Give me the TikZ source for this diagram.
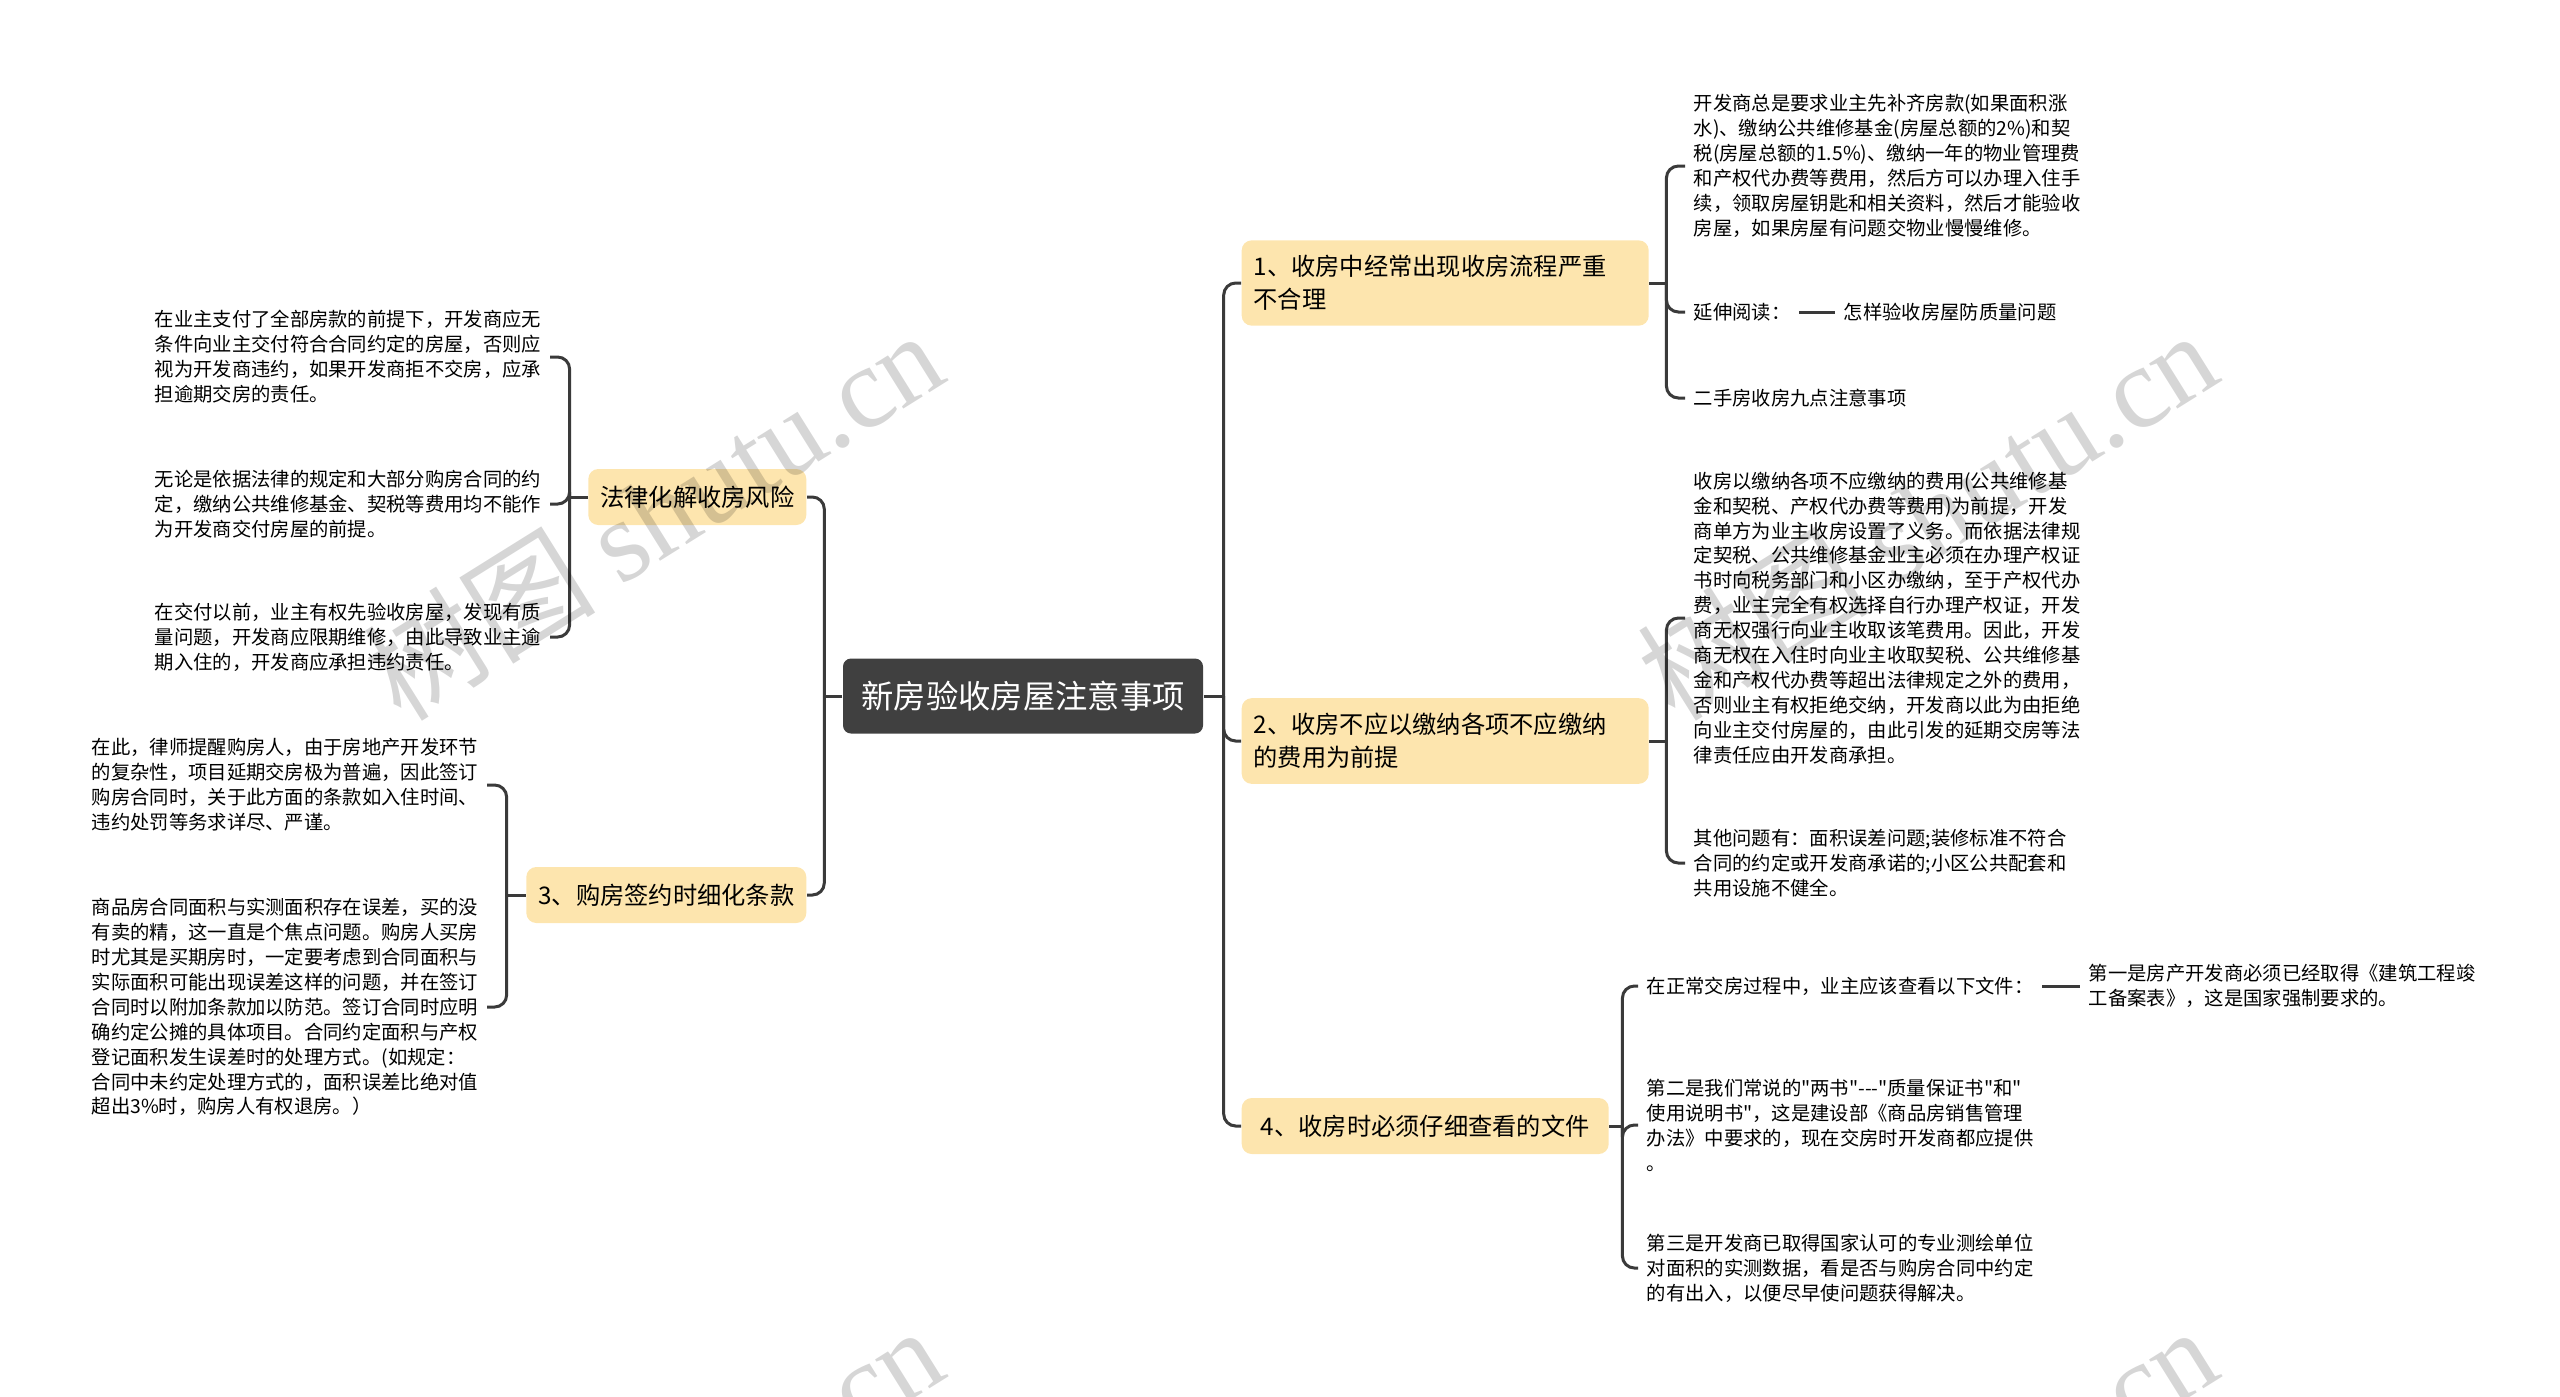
\documentclass[tikz,border=0pt]{standalone}
\usepackage{fontspec}
\setmainfont{Noto Sans CJK SC}[Ligatures=TeXOff]
\newfontfamily\wmfont{Liberation Serif}
\usetikzlibrary{positioning,calc}
\definecolor{rootgray}{HTML}{404040}
\definecolor{branchyellow}{HTML}{FDE5AE}
\definecolor{linkgray}{HTML}{3A3A3A}

\begin{document}
\begin{tikzpicture}[
    root/.style={fill=rootgray, text=white, rounded corners=0.08cm, minimum width=3.6cm, minimum height=0.75cm, font=\fontsize{9.2pt}{11pt}\selectfont},
    branch/.style={fill=branchyellow, rounded corners=0.1cm, align=left, inner xsep=0.12cm, inner ysep=0.15cm, minimum height=0.56cm, font=\fontsize{6.9pt}{9.4pt}\selectfont},
    leaf/.style={align=left, inner sep=0.08cm, font=\fontsize{5.5pt}{7.1pt}\selectfont},
    link/.style={draw=linkgray, line width=0.03cm},
    elbow/.style={link, rounded corners=0.12cm},
    watermark/.style={text=black, opacity=0.16, rotate=32, font=\fontsize{33pt}{33pt}\selectfont}
  ]
  \clip (0,0) rectangle (25.6,-13.96);

  % centre
  \node[root] (root) at (10.23,-6.96) {新房验收房屋注意事项};

  % main branches
  \node[branch, anchor=west, text width=3.83cm] (b1) at (12.41,-2.83) {1、收房中经常出现收房流程严重\\不合理};
  \node[branch, anchor=west, text width=3.83cm] (b2) at (12.41,-7.41) {2、收房不应以缴纳各项不应缴纳\\的费用为前提};
  \node[branch, anchor=west, minimum width=3.67cm] (b4) at (12.41,-11.26) {4、收房时必须仔细查看的文件};
  \node[branch, anchor=east] (bL) at (8.07,-4.97) {法律化解收房风险};
  \node[branch, anchor=east] (b3) at (8.07,-8.95) {3、购房签约时细化条款};

  % leaves of branch 1
  \node[leaf, anchor=west] (c11) at (16.85,-1.66) {开发商总是要求业主先补齐房款(如果面积涨\\水)、缴纳公共维修基金(房屋总额的2\%)和契\\税(房屋总额的1.5\%)、缴纳一年的物业管理费\\和产权代办费等费用，然后方可以办理入住手\\续，领取房屋钥匙和相关资料，然后才能验收\\房屋，如果房屋有问题交物业慢慢维修。};
  \node[leaf, anchor=west] (c12) at (16.85,-3.12) {延伸阅读：};
  \node[leaf, right=0.36cm of c12] (c12b) {怎样验收房屋防质量问题};
  \node[leaf, anchor=west] (c13) at (16.85,-3.98) {二手房收房九点注意事项};

  % leaves of branch 2
  \node[leaf, anchor=west] (c21) at (16.85,-6.18) {收房以缴纳各项不应缴纳的费用(公共维修基\\金和契税、产权代办费等费用)为前提，开发\\商单方为业主收房设置了义务。而依据法律规\\定契税、公共维修基金业主必须在办理产权证\\书时向税务部门和小区办缴纳，至于产权代办\\费，业主完全有权选择自行办理产权证，开发\\商无权强行向业主收取该笔费用。因此，开发\\商无权在入住时向业主收取契税、公共维修基\\金和产权代办费等超出法律规定之外的费用，\\否则业主有权拒绝交纳，开发商以此为由拒绝\\向业主交付房屋的，由此引发的延期交房等法\\律责任应由开发商承担。};
  \node[leaf, anchor=west] (c22) at (16.85,-8.63) {其他问题有：面积误差问题;装修标准不符合\\合同的约定或开发商承诺的;小区公共配套和\\共用设施不健全。};

  % leaves of branch 4
  \node[leaf, anchor=west] (c41) at (16.38,-9.86) {在正常交房过程中，业主应该查看以下文件：};
  \node[leaf, right=0.38cm of c41] (c41b) {第一是房产开发商必须已经取得《建筑工程竣\\工备案表》，这是国家强制要求的。};
  \node[leaf, anchor=west] (c42) at (16.38,-11.25) {第二是我们常说的"两书"-{}-{}-"质量保证书"和"\\使用说明书"，这是建设部《商品房销售管理\\办法》中要求的，现在交房时开发商都应提供\\。};
  \node[leaf, anchor=west] (c43) at (16.38,-12.68) {第三是开发商已取得国家认可的专业测绘单位\\对面积的实测数据，看是否与购房合同中约定\\的有出入，以便尽早使问题获得解决。};

  % leaves of the left branches
  \node[leaf, anchor=east] (cL1) at (5.50,-3.57) {在业主支付了全部房款的前提下，开发商应无\\条件向业主交付符合合同约定的房屋，否则应\\视为开发商违约，如果开发商拒不交房，应承\\担逾期交房的责任。};
  \node[leaf, anchor=east] (cL2) at (5.50,-5.04) {无论是依据法律的规定和大部分购房合同的约\\定，缴纳公共维修基金、契税等费用均不能作\\为开发商交付房屋的前提。};
  \node[leaf, anchor=east] (cL3) at (5.50,-6.37) {在交付以前，业主有权先验收房屋，发现有质\\量问题，开发商应限期维修，由此导致业主逾\\期入住的，开发商应承担违约责任。};
  \node[leaf, anchor=east] (c31) at (4.87,-7.85) {在此，律师提醒购房人，由于房地产开发环节\\的复杂性，项目延期交房极为普遍，因此签订\\购房合同时，关于此方面的条款如入住时间、\\违约处罚等务求详尽、严谨。};
  \node[leaf, anchor=east] (c32) at (4.87,-10.07) {商品房合同面积与实测面积存在误差，买的没\\有卖的精，这一直是个焦点问题。购房人买房\\时尤其是买期房时，一定要考虑到合同面积与\\实际面积可能出现误差这样的问题，并在签订\\合同时以附加条款加以防范。签订合同时应明\\确约定公摊的具体项目。合同约定面积与产权\\登记面积发生误差时的处理方式。(如规定：\\合同中未约定处理方式的，面积误差比绝对值\\超出3\%时，购房人有权退房。）};

  % connectors
  \coordinate (rj) at ($(root.east)+(0.2,0)$);
  \coordinate (lj) at ($(root.west)+(-0.18,0)$);
  \draw[link] (root.east) -- (rj);
  \draw[link] (root.west) -- (lj);
  \draw[elbow] (rj) |- (b1.west);
  \draw[elbow] (rj) |- (b2.west);
  \draw[elbow] (rj) |- (b4.west);
  \draw[elbow] (lj) |- (bL.east);
  \draw[elbow] (lj) |- (b3.east);

  \coordinate (b1j) at ($(b1.east)+(0.17,0)$);
  \draw[link] (b1.east) -- (b1j);
  \draw[elbow] (b1j) |- (c11.west);
  \draw[elbow] (b1j) |- (c12.west);
  \draw[elbow] (b1j) |- (c13.west);
  \draw[link] (c12) -- (c12b);

  \coordinate (b2j) at ($(b2.east)+(0.17,0)$);
  \draw[link] (b2.east) -- (b2j);
  \draw[elbow] (b2j) |- (c21.west);
  \draw[elbow] (b2j) |- (c22.west);

  \coordinate (b4j) at ($(b4.east)+(0.13,0)$);
  \draw[link] (b4.east) -- (b4j);
  \draw[elbow] (b4j) |- (c41.west);
  \draw[elbow] (b4j) |- (c42.west);
  \draw[elbow] (b4j) |- (c43.west);
  \draw[link] (c41) -- (c41b);

  \coordinate (bLj) at ($(bL.west)+(-0.18,0)$);
  \draw[link] (bL.west) -- (bLj);
  \draw[elbow] (bLj) |- (cL1.east);
  \draw[elbow] (bLj) |- (cL2.east);
  \draw[elbow] (bLj) |- (cL3.east);

  \coordinate (b3j) at ($(b3.west)+(-0.19,0)$);
  \draw[link] (b3.west) -- (b3j);
  \draw[elbow] (b3j) |- (c31.east);
  \draw[elbow] (b3j) |- (c32.east);

  % watermark
  \node[watermark] (wm1) at (6.53,-5.14) {树图 {\wmfont shutu.cn}};
  \node[watermark] (wm2) at (19.27,-5.14) {树图 {\wmfont shutu.cn}};
  \node[watermark] (wm3) at (6.53,-15.10) {树图 {\wmfont shutu.cn}};
  \node[watermark] (wm4) at (19.27,-15.10) {树图 {\wmfont shutu.cn}};
\end{tikzpicture}
\end{document}
